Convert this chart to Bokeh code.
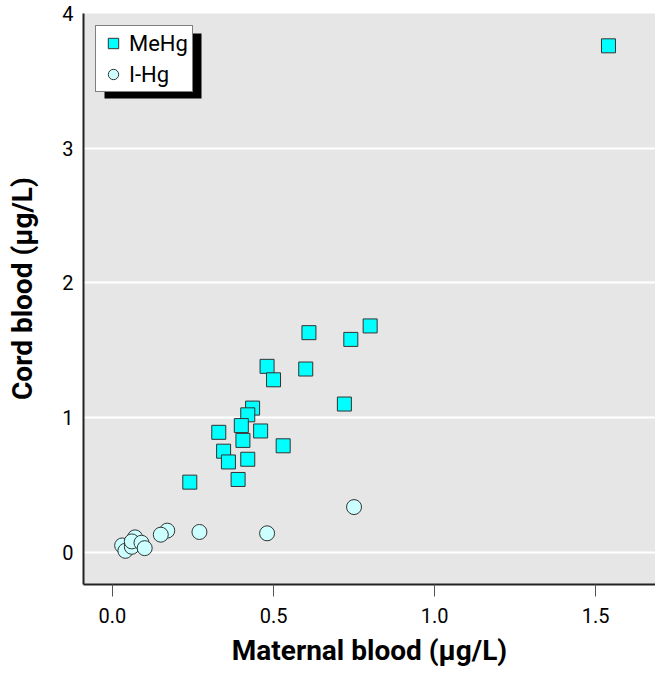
from bokeh.plotting import figure
from bokeh.models import Range1d, FixedTicker, BoxAnnotation
from bokeh.embed import file_html
from bokeh.resources import INLINE

# MeHg (squares)
mehg_maternal = [1.54, 0.80, 0.74, 0.61, 0.60, 0.48, 0.50, 0.72, 0.435, 0.42, 0.40, 0.46,
                 0.33, 0.405, 0.53, 0.345, 0.36, 0.42, 0.39, 0.24]
mehg_cord = [3.76, 1.68, 1.58, 1.63, 1.36, 1.38, 1.28, 1.10, 1.07, 1.02, 0.94, 0.90,
             0.89, 0.83, 0.79, 0.75, 0.67, 0.69, 0.54, 0.52]
# I-Hg (circles)
ihg_maternal = [0.75, 0.48, 0.27, 0.17, 0.15, 0.03, 0.04, 0.06, 0.07, 0.06, 0.09, 0.10]
ihg_cord = [0.335, 0.14, 0.15, 0.16, 0.13, 0.05, 0.01, 0.04, 0.11, 0.08, 0.07, 0.03]

x_ticks = [0.0, 0.5, 1.0, 1.5]
y_ticks = [0, 1, 2, 3, 4]

FONT = "Roboto"

p = figure(frame_width=572, frame_height=571, output_backend="svg", toolbar_location=None,
           x_range=Range1d(-0.09, 1.686), y_range=Range1d(-0.24, 4.0),
           min_border_left=83, min_border_top=13, min_border_right=0, min_border_bottom=76)
p.background_fill_color = "#e6e6e6"
p.border_fill_color = "white"
p.outline_line_color = None

p.xgrid.grid_line_color = None
p.ygrid.grid_line_color = "white"
p.ygrid.grid_line_width = 2
p.ygrid.ticker = FixedTicker(ticks=y_ticks)

p.xaxis.ticker = FixedTicker(ticks=x_ticks)
p.yaxis.ticker = FixedTicker(ticks=y_ticks)
p.xaxis.major_label_overrides = {0.0: "0.0", 0.5: "0.5", 1.0: "1.0", 1.5: "1.5"}
for ax in (p.xaxis, p.yaxis):
    ax.axis_line_color = "#222222"
    ax.axis_line_width = 2
    ax.minor_tick_line_color = None
    ax.major_label_text_font = FONT
    ax.major_label_text_font_size = "20px"
    ax.major_label_text_color = "black"
    ax.axis_label_text_font = FONT
    ax.axis_label_text_font_style = "bold"
    ax.axis_label_text_font_size = "28px"
    ax.axis_label_text_color = "black"
p.xaxis.major_tick_in = 0
p.xaxis.major_tick_out = 12
p.xaxis.major_tick_line_color = "#555555"
p.xaxis.major_label_standoff = 11
p.xaxis.axis_label_standoff = 8
p.yaxis.major_tick_in = 0
p.yaxis.major_tick_out = 0
p.yaxis.major_label_standoff = 10
p.yaxis.axis_label_standoff = 20
p.xaxis.axis_label = "Maternal blood (\u03bcg/L)"
p.yaxis.axis_label = "\u00a0\u00a0\u00a0Cord blood (\u03bcg/L)"

# legend drop shadow (canvas pixels)
shadow = BoxAnnotation(left=104, right=201, top=33, bottom=98,
                       left_units="canvas", right_units="canvas",
                       top_units="canvas", bottom_units="canvas",
                       fill_color="black", fill_alpha=1.0, line_color=None)
p.add_layout(shadow)

p.scatter(mehg_maternal, mehg_cord, marker="square", size=14, fill_color="#00ffff",
          line_color="#333333", line_width=1, legend_label="MeHg")
p.scatter(ihg_maternal, ihg_cord, marker="circle", size=15, fill_color="#ccffff",
          line_color="#333333", line_width=1, legend_label="I-Hg")

lg = p.legend[0]
lg.location = "top_left"
lg.margin = 12
lg.border_line_color = "black"
lg.border_line_width = 1
lg.background_fill_color = "white"
lg.background_fill_alpha = 1.0
lg.label_text_font = FONT
lg.label_text_font_size = "22px"
lg.label_text_color = "black"
lg.glyph_width = 26
lg.glyph_height = 26
lg.label_height = 26
lg.padding = 4
lg.spacing = 5
lg.label_standoff = 3

open("out.html", "w").write(file_html(p, INLINE))
